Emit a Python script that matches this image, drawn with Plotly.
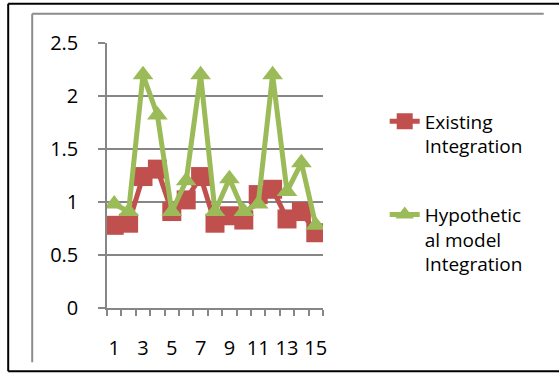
import plotly.graph_objects as go

categories = list(range(1, 16))
existing = [0.78, 0.80, 1.24, 1.31, 0.91, 1.02, 1.24, 0.80, 0.87, 0.83, 1.07, 1.12, 0.84, 0.91, 0.71]
hypothetical = [0.98, 0.91, 2.20, 1.82, 0.91, 1.20, 2.20, 0.91, 1.22, 0.91, 0.98, 2.20, 1.10, 1.37, 0.78]
tick_labels = [str(c) for c in categories]
y_ticks = [0, 0.5, 1, 1.5, 2, 2.5]
y_tick_labels = ["0", "0.5", "1", "1.5", "2", "2.5"]

RED = "#C0504D"
GREEN = "#9BBB59"
GRID = "#868686"
FONT = "Open Sans"

fig = go.Figure()
fig.add_trace(go.Scatter(
    x=categories, y=existing, mode="lines+markers",
    name="Existing<br>Integration",
    line=dict(color=RED, width=5),
    marker=dict(symbol="square", size=19, color=RED),
    legendgroup="a",
))
fig.add_trace(go.Scatter(
    x=categories, y=hypothetical, mode="lines+markers",
    name="Hypothetic<br>al model<br>Integration",
    line=dict(color=GREEN, width=5),
    marker=dict(symbol="triangle-up", size=18, color=GREEN),
    legendgroup="b",
))

W, H = 559, 373
L, R, T, B = 107.3, 323.3, 42.7, 307.7
pw, ph = R - L, B - T

def px(x):
    return (x - L) / pw

def py(y):
    return (B - y) / ph

shapes = [
    # outer black frame
    dict(type="line", xref="paper", yref="paper", x0=px(8.5), x1=px(600), y0=py(3.5), y1=py(3.5),
         line=dict(color="#000000", width=2)),
    dict(type="line", xref="paper", yref="paper", x0=px(8.5), x1=px(8.5), y0=py(3.5), y1=py(371),
         line=dict(color="#000000", width=2)),
    dict(type="line", xref="paper", yref="paper", x0=px(8.5), x1=px(600), y0=py(371), y1=py(371),
         line=dict(color="#000000", width=2)),
    # inner gray frame (top and left)
    dict(type="line", xref="paper", yref="paper", x0=px(32.5), x1=px(544), y0=py(13.5), y1=py(13.5),
         line=dict(color="#8C8C8C", width=2)),
    dict(type="line", xref="paper", yref="paper", x0=px(32.5), x1=px(32.5), y0=py(13.5), y1=py(362),
         line=dict(color="#8C8C8C", width=2)),
]

fig.update_layout(
    width=W, height=H,
    margin=dict(l=L, r=W - R, t=T, b=H - B, pad=0),
    paper_bgcolor="white", plot_bgcolor="white",
    font=dict(family=FONT, size=20, color="#000000"),
    showlegend=True,
    legend=dict(
        x=px(385), y=py(102), xanchor="left", yanchor="top",
        font=dict(family=FONT, size=19, color="#000000"),
        tracegroupgap=41, bgcolor="rgba(0,0,0,0)",
        itemwidth=30, valign="top",
    ),
    shapes=shapes,
    xaxis=dict(
        range=[0.5, 15.5],
        tickmode="array", tickvals=categories[::2], ticktext=tick_labels[::2],
        ticks="", showgrid=False, zeroline=False,
        showline=True, linecolor=GRID, linewidth=1.5,
        tickfont=dict(family=FONT, size=20, color="#000000"),
        ticklabelstandoff=21,
        minor=dict(tickvals=[c - 0.5 for c in categories] + [15.5], ticks="outside",
                   ticklen=6, tickcolor=GRID, tickwidth=1.5, showgrid=False),
    ),
    yaxis=dict(
        range=[0, 2.5],
        tickmode="array", tickvals=y_ticks, ticktext=y_tick_labels,
        ticks="outside", ticklen=7, tickcolor=GRID, tickwidth=1.5,
        showgrid=True, gridcolor=GRID, gridwidth=1.5, zeroline=False,
        showline=True, linecolor=GRID, linewidth=1.5,
        tickfont=dict(family=FONT, size=20, color="#000000"),
        ticklabelstandoff=16,
    ),
)

fig.write_html(
    "out.html",
    config={"displayModeBar": False},
    post_script="document.body.style.margin='0';document.body.style.overflow='hidden';",
)
